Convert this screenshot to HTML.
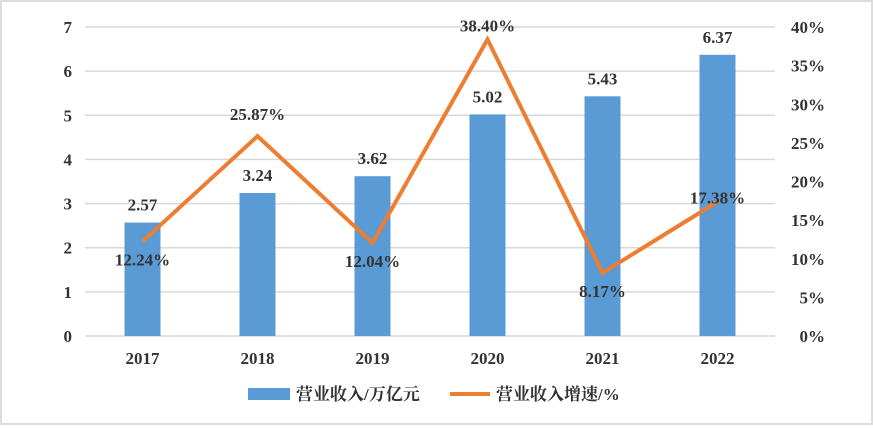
<!DOCTYPE html>
<html><head><meta charset="utf-8"><style>
body{margin:0;background:#fff}
svg text{font-family:"Liberation Serif","Noto Serif CJK SC",serif;font-weight:bold;fill:#333}
</style></head><body>
<svg width="873" height="425">
<rect x="1" y="1" width="871" height="423" fill="#fff" stroke="#ddd" stroke-width="2"/>
<g id="grid"></g><g id="bars"></g><g id="line"></g><g id="labels"></g>
<g>
<rect x="248" y="388" width="42" height="12" fill="#5b9bd5"/>
<text x="296" y="400" font-size="17">营业收入/万亿元</text>
<line x1="450" y1="394" x2="490" y2="394" stroke="#ed7d31" stroke-width="4"/>
<text x="496" y="400" font-size="17">营业收入增速/%</text>
</g>
</svg>
<script>
const categories=["2017","2018","2019","2020","2021","2022"];
const revenue=[2.57,3.24,3.62,5.02,5.43,6.37];
const growth=[12.24,25.87,12.04,38.40,8.17,17.38];
const leftTicks=[0,1,2,3,4,5,6,7];
const rightTicks=[0,5,10,15,20,25,30,35,40];
const NS="http://www.w3.org/2000/svg";
const x0=85,x1=775,yB=336,yT=27;
const step=(x1-x0)/categories.length;
const xc=i=>x0+step*(i+0.5);
const yL=v=>yB-(v/7)*(yB-yT);
const yR=v=>yB-(v/40)*(yB-yT);
function mk(tag,attrs,parent,txt){const e=document.createElementNS(NS,tag);for(const k in attrs)e.setAttribute(k,attrs[k]);if(txt!==undefined)e.textContent=txt;document.getElementById(parent).appendChild(e);return e;}
leftTicks.forEach(t=>{
 const l=mk('line',{x1:x0,x2:x1,y1:yL(t),y2:yL(t),stroke:'#d9d9d9','stroke-width':1.5},'grid');
 
 
 const tx=mk('text',{x:72,y:yL(t)+6,'font-size':17,'text-anchor':'end'},'grid',String(t));
 
 
});
rightTicks.forEach(t=>{
 const tx=mk('text',{x:825,y:yR(t)+6,'font-size':17,'text-anchor':'end'},'grid',t+'%');
 
 
});
categories.forEach((c,i)=>{
 const tx=mk('text',{x:xc(i),y:364,'font-size':17,'text-anchor':'middle'},'grid',c);
 
 
 const b=mk('rect',{x:xc(i)-18,y:yL(revenue[i]),width:36,height:yB-yL(revenue[i]),fill:'#5b9bd5'},'bars');
 
 
 const bl=mk('text',{x:xc(i),y:yL(revenue[i])-12,'font-size':17,'text-anchor':'middle'},'labels',revenue[i].toFixed(2));
 
 
});
const pts=growth.map((g,i)=>xc(i)+','+yR(g)).join(' ');
const pl=mk('polyline',{points:pts,fill:'none',stroke:'#ed7d31','stroke-width':4,'stroke-linejoin':'miter'},'line');


const offs=[[0,18],[0,-22],[0,18],[0,-14],[0,18],[0,-4]];
growth.forEach((g,i)=>{
 const t=mk('text',{x:xc(i)+offs[i][0],y:yR(g)+offs[i][1]+6,'font-size':17,'text-anchor':'middle'},'labels',g.toFixed(2)+'%');
 
 
});
</script>
</body></html>
